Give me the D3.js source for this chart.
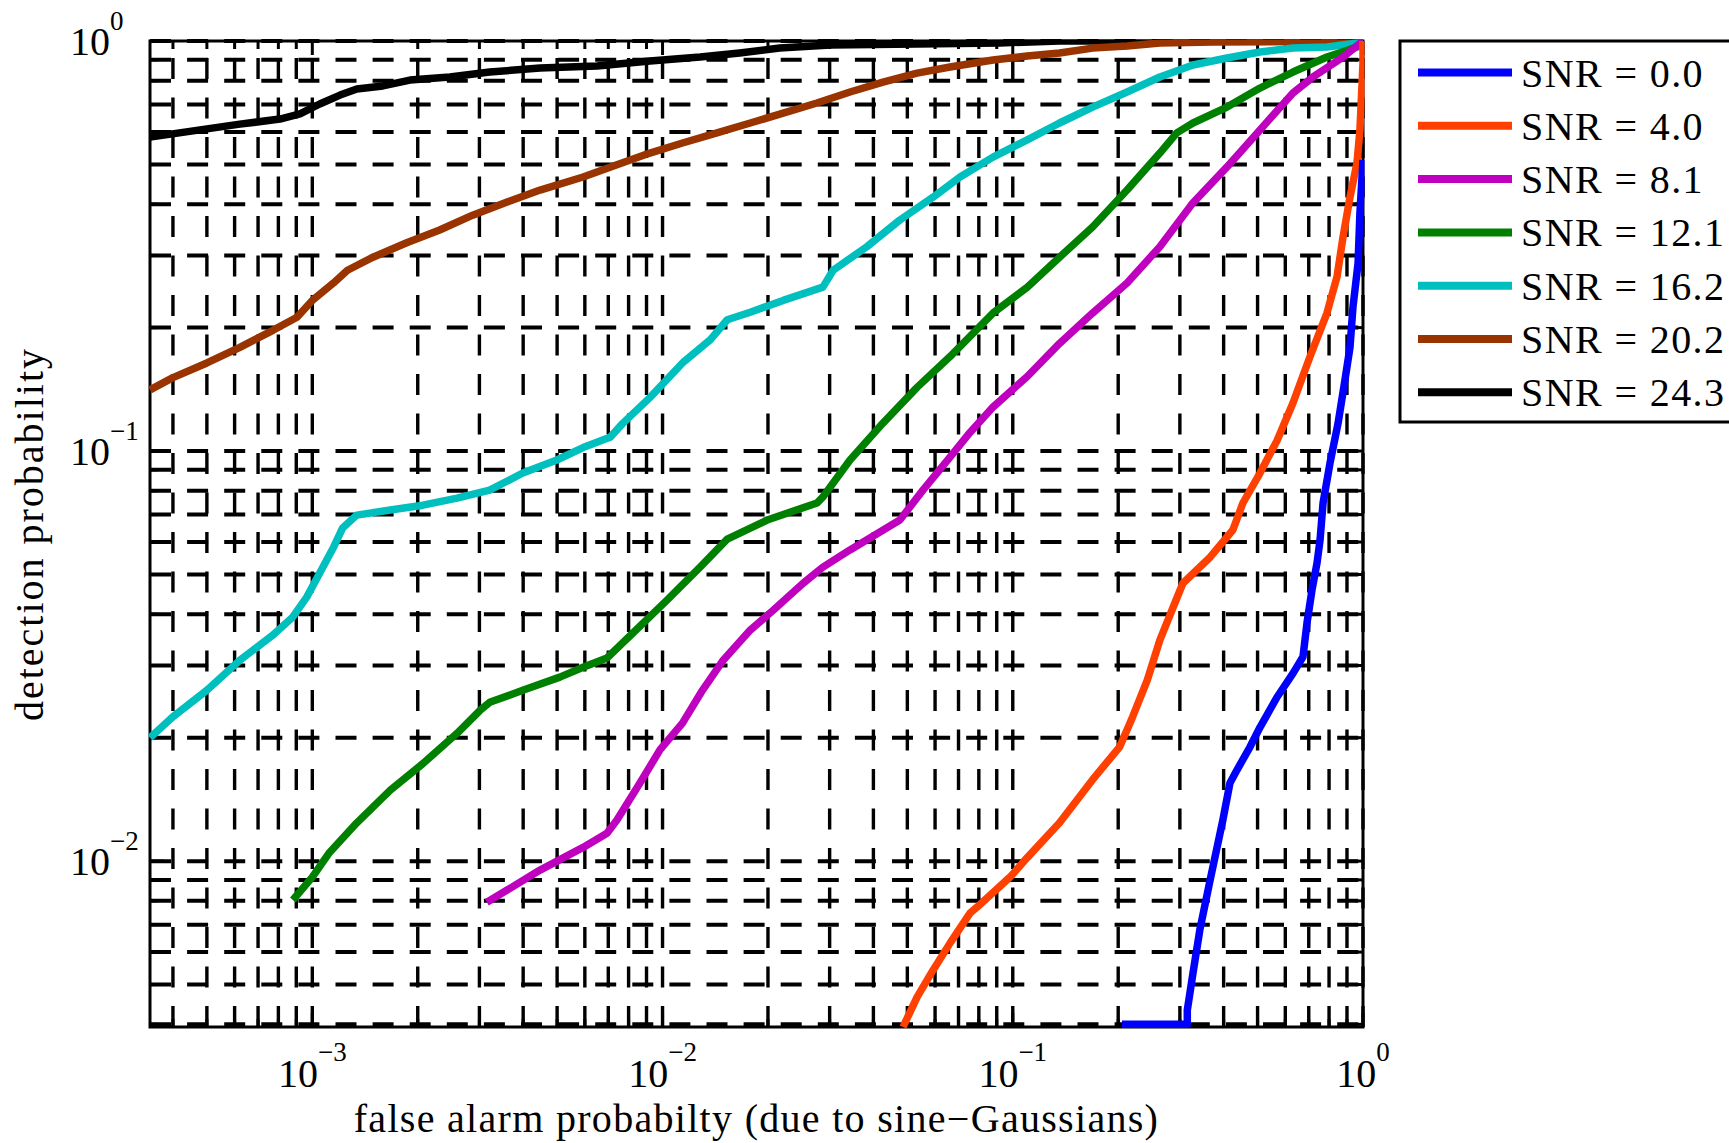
<!DOCTYPE html>
<html>
<head>
<meta charset="utf-8">
<script src="https://cdn.jsdelivr.net/npm/d3@7"></script>
<style>
	html, body { margin: 0; padding: 0; background: #fff; }
	svg { display: block; }
	text { font-family: "Liberation Serif", "DejaVu Serif", serif; fill: #000; }
</style>
</head>
<body>
<svg id="chart" width="1729" height="1143"></svg>
<script>
// ROC curves, one per SNR: [false alarm prob, detection prob]
const snr0 = [[0.205, 0.004], [0.315, 0.004], [0.315, 0.00433], [0.327, 0.00533], [0.342, 0.00679], [0.366, 0.00899], [0.383, 0.0108], [0.398, 0.0126], [0.417, 0.0155], [0.437, 0.0167], [0.476, 0.019], [0.508, 0.0212], [0.568, 0.0251], [0.631, 0.0287], [0.674, 0.0315], [0.692, 0.0381], [0.715, 0.0458], [0.739, 0.0533], [0.754, 0.0607], [0.769, 0.0747], [0.805, 0.0935], [0.849, 0.117], [0.888, 0.149], [0.918, 0.179], [0.936, 0.224], [0.968, 0.287], [0.98, 0.381], [1.0, 0.513]];
const snr4 = [[0.0486, 0.00394], [0.0533, 0.00466], [0.0592, 0.00542], [0.0662, 0.00631], [0.0755, 0.00747], [0.079, 0.00772], [0.0982, 0.00914], [0.11, 0.0102], [0.136, 0.0124], [0.169, 0.0158], [0.202, 0.019], [0.22, 0.0225], [0.242, 0.0276], [0.263, 0.0346], [0.287, 0.0416], [0.306, 0.0476], [0.366, 0.0551], [0.425, 0.0642], [0.454, 0.0747], [0.508, 0.0884], [0.568, 0.106], [0.631, 0.131], [0.706, 0.17], [0.789, 0.217], [0.843, 0.266], [0.877, 0.333], [0.918, 0.416], [0.961, 0.504], [0.98, 0.607], [1.0, 0.884], [1.0, 1.0]];
const snr8 = [[0.00315, 0.00794], [0.0036, 0.0085], [0.00447, 0.00951], [0.00593, 0.0108], [0.00694, 0.0117], [0.00741, 0.0126], [0.00862, 0.0155], [0.00984, 0.0187], [0.0114, 0.0217], [0.013, 0.0261], [0.0149, 0.0309], [0.0178, 0.0366], [0.0207, 0.0409], [0.0252, 0.0476], [0.0287, 0.0521], [0.0343, 0.0574], [0.0476, 0.0679], [0.0554, 0.0803], [0.0662, 0.0967], [0.0755, 0.111], [0.0878, 0.128], [0.11, 0.152], [0.136, 0.183], [0.169, 0.217], [0.212, 0.257], [0.263, 0.315], [0.327, 0.403], [0.409, 0.493], [0.508, 0.607], [0.631, 0.747], [0.72, 0.817], [0.877, 0.914], [1.0, 1.0]];
const snr12 = [[0.00088, 0.00804], [0.001, 0.00914], [0.00112, 0.0105], [0.00134, 0.0124], [0.00167, 0.0149], [0.00207, 0.0173], [0.00259, 0.0205], [0.00301, 0.0233], [0.00321, 0.0244], [0.00399, 0.0261], [0.00509, 0.0281], [0.00593, 0.0297], [0.00694, 0.0313], [0.00823, 0.036], [0.0103, 0.0433], [0.0128, 0.0521], [0.0153, 0.061], [0.0199, 0.0679], [0.0276, 0.0747], [0.0287, 0.0773], [0.0343, 0.0951], [0.0426, 0.117], [0.0533, 0.143], [0.0662, 0.17], [0.0878, 0.217], [0.11, 0.251], [0.136, 0.297], [0.169, 0.352], [0.212, 0.433], [0.263, 0.533], [0.294, 0.597], [0.327, 0.631], [0.409, 0.69], [0.508, 0.768], [0.631, 0.84], [0.789, 0.914], [0.961, 0.967], [1.0, 1.0]];
const snr16 = [[0.000344, 0.02], [0.0004, 0.0225], [0.0005, 0.0261], [0.000621, 0.0309], [0.000772, 0.0356], [0.00088, 0.0394], [0.000965, 0.0441], [0.00105, 0.0504], [0.00115, 0.0583], [0.00122, 0.0649], [0.00134, 0.0698], [0.00167, 0.0718], [0.00207, 0.0738], [0.00259, 0.0768], [0.00321, 0.0803], [0.00399, 0.0884], [0.00499, 0.0951], [0.00593, 0.102], [0.00708, 0.108], [0.00771, 0.117], [0.0092, 0.135], [0.0114, 0.164], [0.0137, 0.187], [0.0153, 0.209], [0.0178, 0.218], [0.0221, 0.233], [0.0287, 0.251], [0.0307, 0.276], [0.0383, 0.315], [0.0476, 0.366], [0.0592, 0.416], [0.0707, 0.466], [0.0878, 0.521], [0.11, 0.574], [0.136, 0.631], [0.169, 0.69], [0.212, 0.751], [0.263, 0.817], [0.327, 0.874], [0.409, 0.909], [0.508, 0.94], [0.631, 0.961], [0.789, 0.967], [0.93, 0.985], [1.0, 1.0]];
const snr20 = [[0.000344, 0.141], [0.0004, 0.151], [0.0005, 0.164], [0.000621, 0.179], [0.000772, 0.197], [0.000904, 0.212], [0.001, 0.233], [0.00115, 0.257], [0.00126, 0.276], [0.00149, 0.297], [0.00186, 0.322], [0.00231, 0.346], [0.00287, 0.376], [0.0036, 0.405], [0.00447, 0.433], [0.00593, 0.466], [0.00741, 0.499], [0.0092, 0.533], [0.0114, 0.564], [0.0143, 0.597], [0.0178, 0.631], [0.0221, 0.667], [0.0276, 0.706], [0.0343, 0.751], [0.0426, 0.794], [0.0533, 0.835], [0.0662, 0.864], [0.0878, 0.899], [0.11, 0.919], [0.136, 0.935], [0.169, 0.961], [0.212, 0.972], [0.263, 0.989], [0.373, 0.994], [1.0, 1.0]];
const snr24 = [[0.000344, 0.583], [0.000478, 0.607], [0.000621, 0.627], [0.000808, 0.645], [0.000922, 0.664], [0.00105, 0.702], [0.0012, 0.738], [0.00134, 0.764], [0.00159, 0.777], [0.0019, 0.803], [0.00247, 0.817], [0.00321, 0.84], [0.00447, 0.859], [0.0065, 0.869], [0.0092, 0.894], [0.0128, 0.914], [0.0166, 0.935], [0.0216, 0.961], [0.0301, 0.978], [0.0533, 0.983], [0.0919, 0.989], [0.136, 1.0], [1.0, 1.0]];

const snrLabels = ["SNR = 0.0", "SNR = 4.0", "SNR = 8.1", "SNR = 12.1", "SNR = 16.2", "SNR = 20.2", "SNR = 24.3"];
const snrColors = ["#0000ff", "#ff4000", "#bf00bf", "#008000", "#00bfbf", "#993300", "#000000"];
const snrSeries = [snr0, snr4, snr8, snr12, snr16, snr20, snr24];

const xDomain = [3.44e-4, 1];
const yDomain = [0.00394, 1];
const xTickExps = [-3, -2, -1, 0];
const yTickExps = [-2, -1, 0];

const plot = { left: 150, top: 41, right: 1363, bottom: 1027 };

const svg = d3.select("#chart");
svg.append("rect").attr("width", 1729).attr("height", 1143).attr("fill", "#fff");

const x = d3.scaleLog().domain(xDomain).range([plot.left, plot.right]);
const y = d3.scaleLog().domain(yDomain).range([plot.bottom, plot.top]);

const isMajor = (v) => Math.abs(Math.log10(v) - Math.round(Math.log10(v))) < 1e-9;

// dashed grid, minor and major
const grid = svg.append("g");
grid.selectAll("path.vgrid")
	.data(x.ticks())
	.join("path")
	.attr("class", "vgrid")
	.attr("d", (d) => `M${x(d)},${plot.bottom}V${plot.top}`)
	.attr("stroke", "#000")
	.attr("stroke-width", 3.4)
	.attr("stroke-dasharray", "21,18.5")
	.attr("fill", "none");

grid.selectAll("path.hgrid")
	.data(y.ticks())
	.join("path")
	.attr("class", "hgrid")
	.attr("d", (d) => `M${plot.left},${y(d)}H${plot.right}`)
	.attr("stroke", "#000")
	.attr("stroke-width", 4)
	.attr("stroke-dasharray", "21,16.1")
	.attr("fill", "none");

// ticks inside on all four sides
const ticks = svg.append("g").attr("stroke", "#000").attr("stroke-width", 3);
x.ticks().forEach((d) => {
	const len = isMajor(d) ? 14 : 8;
	ticks.append("line").attr("x1", x(d)).attr("x2", x(d)).attr("y1", plot.bottom).attr("y2", plot.bottom - len);
	ticks.append("line").attr("x1", x(d)).attr("x2", x(d)).attr("y1", plot.top).attr("y2", plot.top + len);
});
y.ticks().forEach((d) => {
	const len = isMajor(d) ? 14 : 8;
	ticks.append("line").attr("y1", y(d)).attr("y2", y(d)).attr("x1", plot.left).attr("x2", plot.left + len);
	ticks.append("line").attr("y1", y(d)).attr("y2", y(d)).attr("x1", plot.right).attr("x2", plot.right - len);
});

svg.append("rect")
	.attr("x", plot.left)
	.attr("y", plot.top)
	.attr("width", plot.right - plot.left)
	.attr("height", plot.bottom - plot.top)
	.attr("fill", "none")
	.attr("stroke", "#000")
	.attr("stroke-width", 3);

// curves
svg.append("clipPath").attr("id", "clip")
	.append("rect")
	.attr("x", plot.left - 1.5)
	.attr("y", plot.top - 1.5)
	.attr("width", plot.right - plot.left + 3)
	.attr("height", plot.bottom - plot.top + 3);

const line = d3.line().x((d) => x(d[0])).y((d) => y(d[1]));
const curves = svg.append("g").attr("clip-path", "url(#clip)");
const order = d3.range(snrSeries.length).reverse();
curves.selectAll("path")
	.data(order)
	.join("path")
	.attr("d", (i) => line(snrSeries[i]))
	.attr("fill", "none")
	.attr("stroke", (i) => snrColors[i])
	.attr("stroke-width", 7.5)
	.attr("stroke-linejoin", "round");

// tick labels
const xLabels = svg.append("g");
xTickExps.forEach((e) => {
	const t = xLabels.append("text")
		.attr("x", x(Math.pow(10, e)))
		.attr("y", 1087)
		.attr("text-anchor", "middle")
		.attr("font-size", 40);
	t.append("tspan").text("10");
	t.append("tspan").attr("dy", -26).attr("font-size", 27).text(e < 0 ? "\u2212" + (-e) : String(e));
});

const yLabels = svg.append("g");
yTickExps.forEach((e) => {
	const t = yLabels.append("text")
		.attr("x", 70)
		.attr("y", y(Math.pow(10, e)) + 14)
		.attr("font-size", 40);
	t.append("tspan").text("10");
	t.append("tspan").attr("dy", -25).attr("font-size", 27).text(e < 0 ? "\u2212" + (-e) : String(e));
});

// axis titles
svg.append("text")
	.attr("x", (plot.left + plot.right) / 2)
	.attr("y", 1132)
	.attr("text-anchor", "middle")
	.attr("font-size", 40)
	.attr("letter-spacing", 1.3)
	.text("false alarm probabilty (due to sine\u2212Gaussians)");

svg.append("text")
	.attr("transform", `translate(43, ${(plot.top + plot.bottom) / 2}) rotate(-90)`)
	.attr("text-anchor", "middle")
	.attr("font-size", 40)
	.attr("letter-spacing", 2)
	.text("detection probability");

// legend
const legend = svg.append("g");
legend.append("rect")
	.attr("x", 1400)
	.attr("y", 41)
	.attr("width", 360)
	.attr("height", 381)
	.attr("fill", "#fff")
	.attr("stroke", "#000")
	.attr("stroke-width", 3);

const rows = legend.selectAll("g.row")
	.data(snrLabels)
	.join("g")
	.attr("class", "row")
	.attr("transform", (d, i) => `translate(0, ${72.5 + i * 53.3})`);

rows.append("line")
	.attr("x1", 1418)
	.attr("x2", 1512)
	.attr("stroke", (d, i) => snrColors[i])
	.attr("stroke-width", 8);

rows.append("text")
	.attr("x", 1521)
	.attr("y", 14)
	.attr("font-size", 40)
	.attr("letter-spacing", 1.4)
	.text((d) => d);
</script>
</body>
</html>
